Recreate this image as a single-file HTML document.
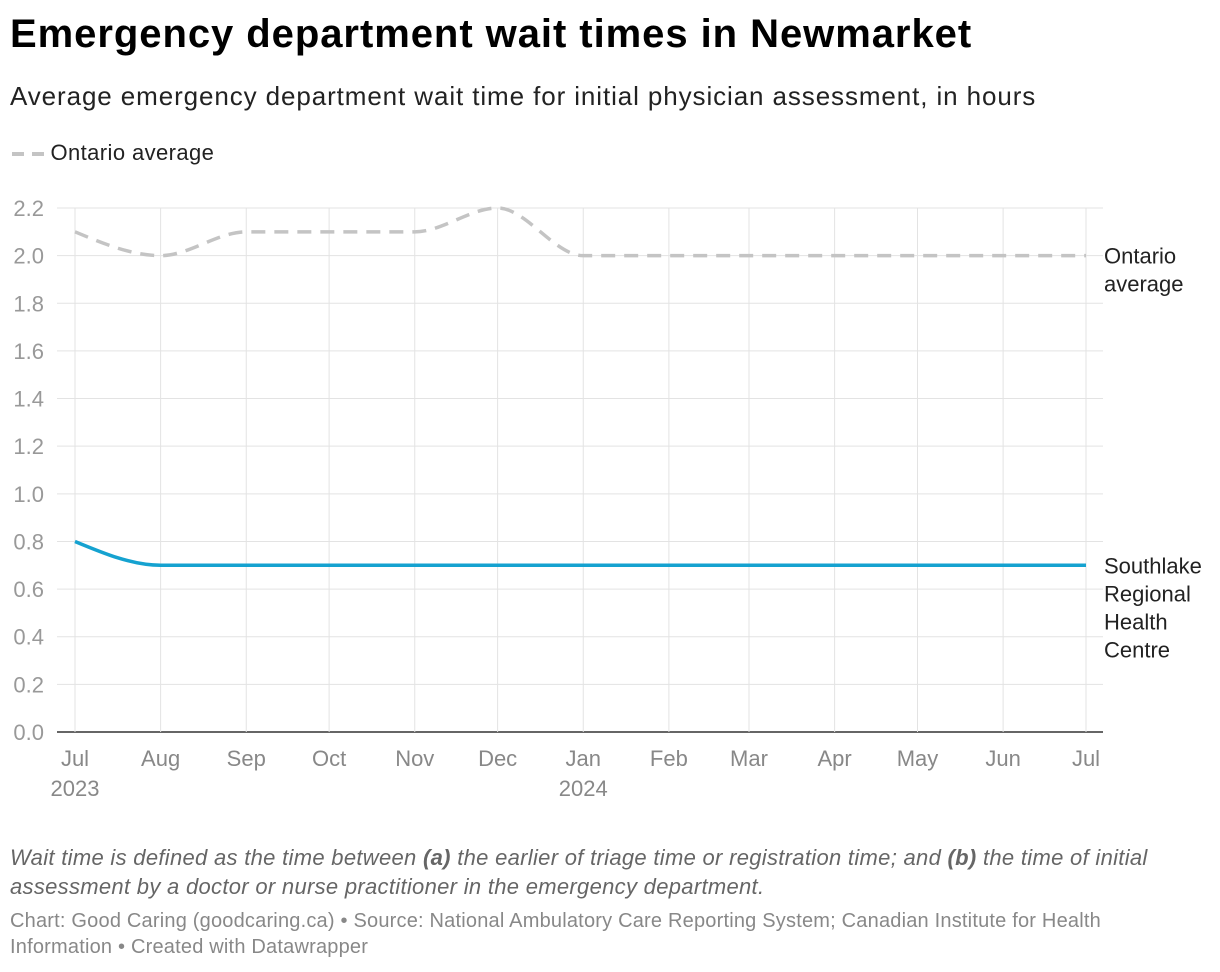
<!DOCTYPE html>
<html><head><meta charset="utf-8"><style>
body{margin:0;width:1220px;height:972px;background:#fff;font-family:"Liberation Sans",sans-serif;overflow:hidden;position:relative}
.t{position:absolute;white-space:nowrap}
</style></head><body>
<div class="t" style="left:10px;top:12px;font-size:40px;font-weight:bold;color:#000;letter-spacing:0.95px">Emergency department wait times in Newmarket</div>
<div class="t" style="left:10px;top:81px;font-size:26px;color:#222;letter-spacing:0.9px">Average emergency department wait time for initial physician assessment, in hours</div>
<div class="t" style="left:10px;top:140px;font-size:22px;color:#222;letter-spacing:0.4px"><svg width="34" height="14" style="vertical-align:middle"><line x1="2" y1="7" x2="34" y2="7" stroke="#c4c4c4" stroke-width="4" stroke-dasharray="12,8"/></svg> Ontario average</div>
<svg id="c" width="1220" height="820" style="position:absolute;left:0;top:0"></svg>
<div class="t" style="left:10px;top:843px;font-size:22px;font-style:italic;color:#666;line-height:29px;white-space:normal;width:1200px;letter-spacing:0.3px">Wait time is defined as the time between <b>(a)</b> the earlier of triage time or registration time; and <b>(b)</b> the time of initial assessment by a doctor or nurse practitioner in the emergency department.</div>
<div class="t" style="left:10px;top:908px;font-size:20px;color:#888;line-height:26px;white-space:normal;width:1175px;letter-spacing:0.2px">Chart: Good Caring (goodcaring.ca) • Source: National Ambulatory Care Reporting System; Canadian Institute for Health Information • Created with Datawrapper</div>
<script>
const months=["Jul","Aug","Sep","Oct","Nov","Dec","Jan","Feb","Mar","Apr","May","Jun","Jul"];
const monthDays=[0,31,62,92,123,153,184,215,244,275,305,336,366];
const yearLabels=["2023","","","","","","2024","","","","","",""];
const ontario=[2.1,2.0,2.1,2.1,2.1,2.2,2.0,2.0,2.0,2.0,2.0,2.0,2.0];
const southlake=[0.8,0.7,0.7,0.7,0.7,0.7,0.7,0.7,0.7,0.7,0.7,0.7,0.7];
const yTicks=[0,0.2,0.4,0.6,0.8,1.0,1.2,1.4,1.6,1.8,2.0,2.2];
const svg=document.getElementById('c');const NS='http://www.w3.org/2000/svg';
const x=d=>75+d*(1011/366), y=v=>732-v*(524/2.2);
function mk(t,a,p){const e=document.createElementNS(NS,t);for(const k in a)e.setAttribute(k,a[k]);(p||svg).appendChild(e);return e;}
yTicks.forEach(v=>{
 const l=mk('line',{x1:57,x2:1103,y1:y(v),y2:y(v),stroke:v===0?'#333':'#e3e3e3','stroke-width':v===0?1.5:1});
 
 
 const t=mk('text',{x:44,y:y(v)+8,'text-anchor':'end','font-size':22,fill:'#999'});t.textContent=v.toFixed(1);
 
 
});
monthDays.forEach((d,i)=>{
 const l=mk('line',{x1:x(d),x2:x(d),y1:208,y2:732,stroke:'#e3e3e3','stroke-width':1});
 
 
 const t=mk('text',{x:x(d),y:766,'text-anchor':'middle','font-size':22,fill:'#888'});t.textContent=months[i];
 
 
 if(yearLabels[i]){const t2=mk('text',{x:x(d),y:796,'text-anchor':'middle','font-size':22,fill:'#888'});t2.textContent=yearLabels[i];
 
 }
});
function mono(xs,ys){const n=xs.length,m=[],d=[];for(let i=0;i<n-1;i++)d.push((ys[i+1]-ys[i])/(xs[i+1]-xs[i]));
 for(let i=0;i<n;i++){if(i===0)m.push(d[0]);else if(i===n-1)m.push(d[n-2]);else m.push(d[i-1]*d[i]<=0?0:2/(1/d[i-1]+1/d[i]));}
 m[0]=(3*d[0]-m[1])/2;if(Math.sign(m[0])!==Math.sign(d[0]))m[0]=0;
 let p='M'+xs[0]+','+ys[0];for(let i=0;i<n-1;i++){const h=(xs[i+1]-xs[i])/3;p+=`C${xs[i]+h},${ys[i]+m[i]*h} ${xs[i+1]-h},${ys[i+1]-m[i+1]*h} ${xs[i+1]},${ys[i+1]}`;}return p;}
const xs=monthDays.map(x);
const o=mk('path',{d:mono(xs,ontario.map(y)),fill:'none',stroke:'#c4c4c4','stroke-width':3.5,'stroke-dasharray':'14,9'});


const s=mk('path',{d:mono(xs,southlake.map(y)),fill:'none',stroke:'#15a2d0','stroke-width':3.5});


function lab(lines,v,name){const t=mk('text',{x:1104,y:y(v)+8,'font-size':22,fill:'#222'});
 
 
 lines.forEach((s,i)=>{const ts=mk('tspan',{x:1104,dy:i?28:0},t);ts.textContent=s;});}
lab(["Ontario","average"],ontario[12],'ontario-line-label');
lab(["Southlake","Regional","Health","Centre"],southlake[12],'southlake-line-label');
</script>
</body></html>
